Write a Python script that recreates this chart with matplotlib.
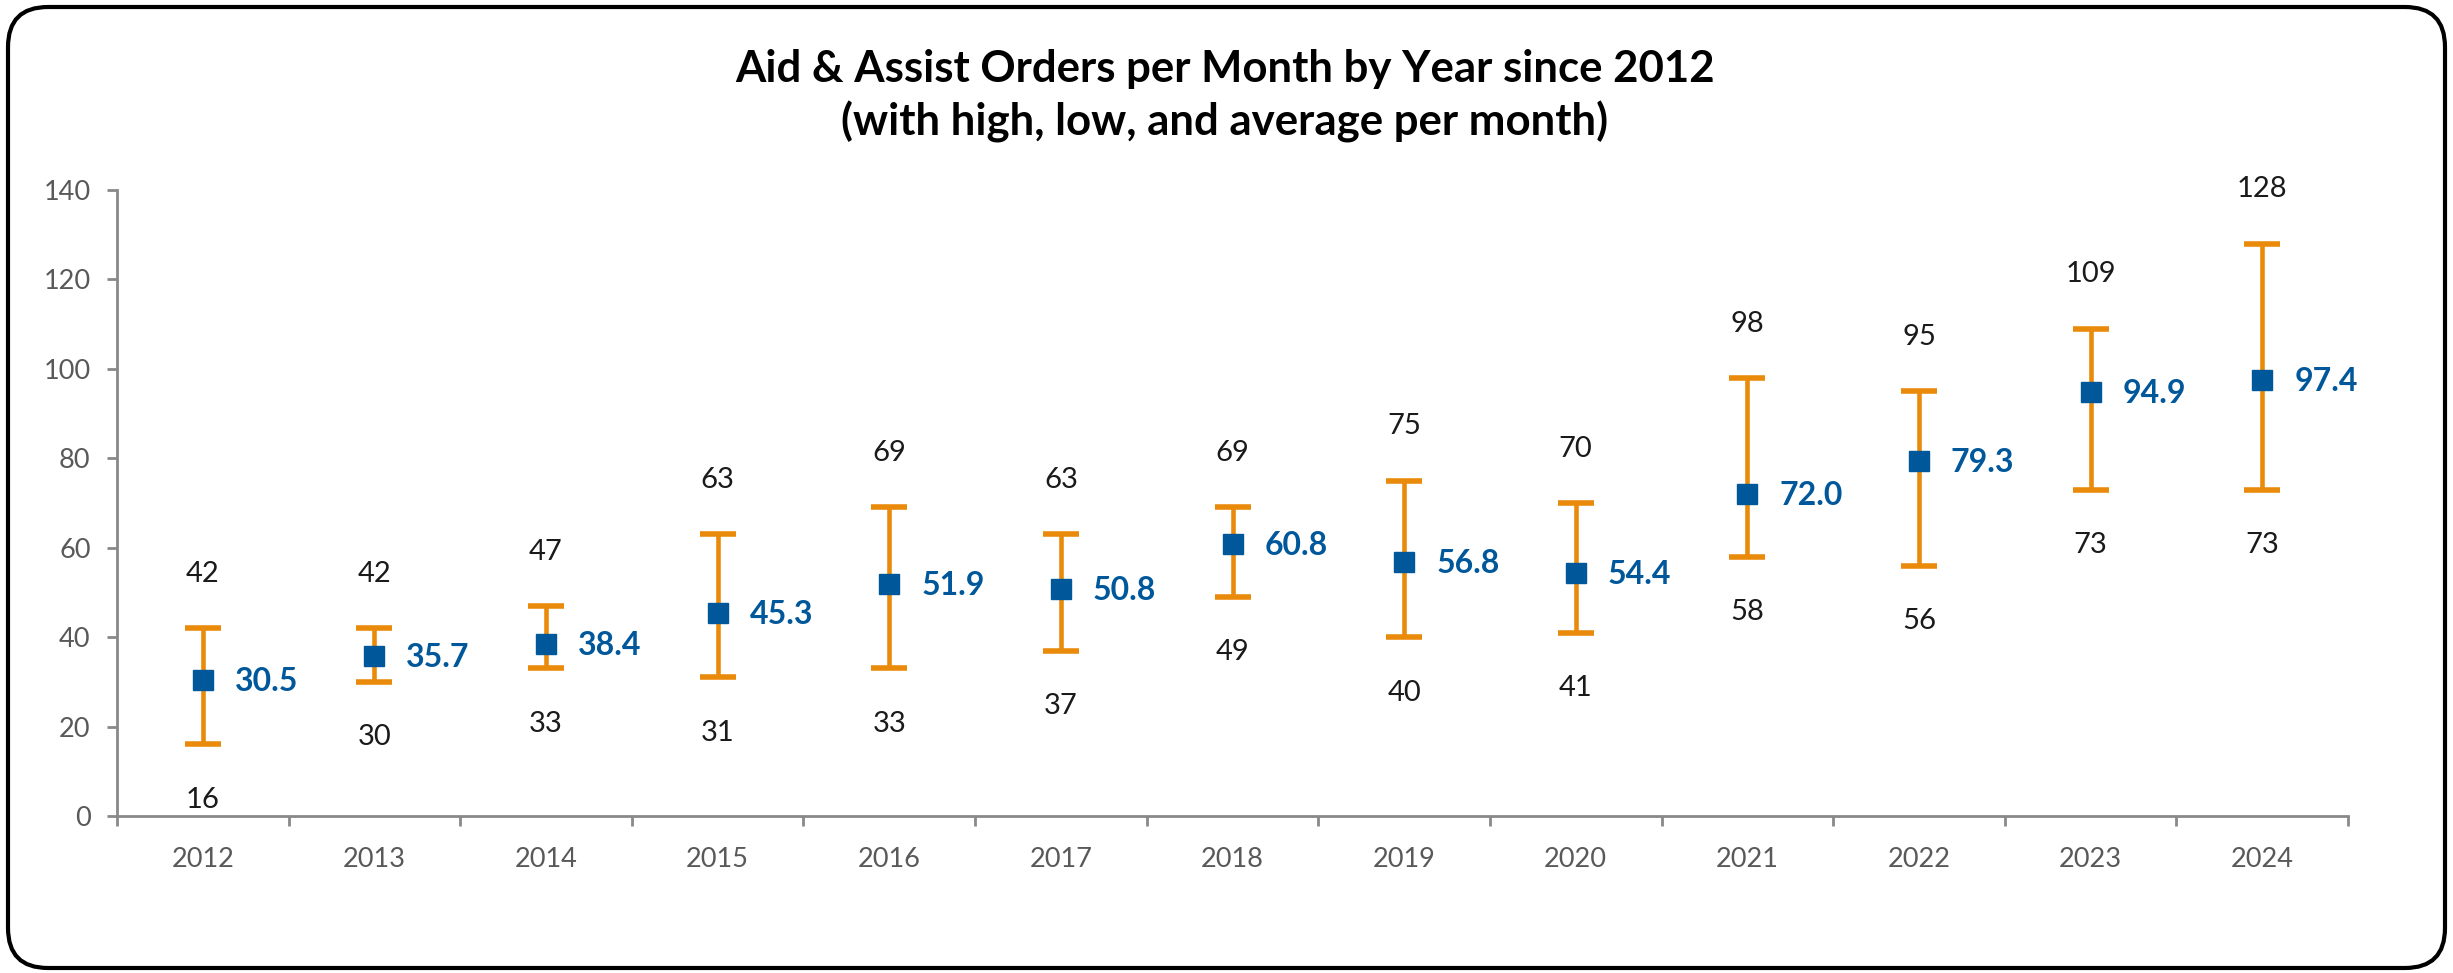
import numpy as np
import matplotlib.pyplot as plt
from matplotlib.patches import FancyBboxPatch
from matplotlib.transforms import IdentityTransform

plt.rcParams['font.family'] = ['Lato', 'DejaVu Sans']

anos = ['2012', '2013', '2014', '2015', '2016', '2017', '2018',
        '2019', '2020', '2021', '2022', '2023', '2024']
media = [30.5, 35.7, 38.4, 45.3, 51.9, 50.8, 60.8, 56.8, 54.4, 72.0, 79.3, 94.9, 97.4]
alto = [42, 42, 47, 63, 69, 63, 69, 75, 70, 98, 95, 109, 128]
baixo = [16, 30, 33, 31, 33, 37, 49, 40, 41, 58, 56, 73, 73]

W, H = 2453, 973
fig = plt.figure(figsize=(W / 100, H / 100), dpi=100)
ax = fig.add_axes([117 / W, (H - 816) / H, (2348 - 117) / W, (816 - 190) / H])

x = np.arange(len(anos))
media = np.array(media)
err = [media - np.array(baixo), np.array(alto) - media]

laranja = '#EA8A0B'
azul = '#00589B'
cinza = '#898989'

ax.errorbar(x, media, yerr=err, fmt='none', ecolor=laranja, elinewidth=3.3,
            capsize=13, capthick=4, zorder=2)
ax.plot(x, media, 's', color=azul, markersize=14, zorder=3)

for i in range(len(anos)):
    ax.annotate(f'{alto[i]}', (x[i], alto[i]), xytext=(0, 39), textcoords='offset points',
                ha='center', va='center', fontsize=21, color='#1a1a1a')
    ax.annotate(f'{baixo[i]}', (x[i], baixo[i]), xytext=(0, -40), textcoords='offset points',
                ha='center', va='center', fontsize=21, color='#1a1a1a')
    ax.annotate(f'{media[i]:.1f}', (x[i], media[i]), xytext=(23, -1), textcoords='offset points',
                ha='left', va='center', fontsize=23, color=azul, fontweight='bold')

ax.set_xlim(-0.5, len(anos) - 0.5)
ax.set_ylim(0, 140)
ax.set_yticks(range(0, 141, 20))
ax.set_xticks(x)
ax.set_xticklabels(anos)
ax.set_xticks(np.arange(-0.5, len(anos), 1), minor=True)

for s in ['top', 'right']:
    ax.spines[s].set_visible(False)
for s in ['left', 'bottom']:
    ax.spines[s].set_color(cinza)
    ax.spines[s].set_linewidth(2)

ax.tick_params(axis='y', colors='#595959', labelsize=19.5, length=7, width=2,
               color=cinza, pad=12)
ax.tick_params(axis='x', which='major', length=0, labelsize=19.5, colors='#595959', pad=22)
ax.tick_params(axis='x', which='minor', length=7, width=2, color=cinza)

fig.text(1225 / W, 1 - 69 / H, 'Aid & Assist Orders per Month by Year since 2012',
         ha='center', va='center', fontsize=31.5, fontweight='bold', color='#000000')
fig.text(1225 / W, 1 - 122 / H, '(with high, low, and average per month)',
         ha='center', va='center', fontsize=31.5, fontweight='bold', color='#000000')

# moldura arredondada em pixels
borda = FancyBboxPatch((8, 5), W - 16, H - 12,
                       boxstyle='round,pad=0,rounding_size=40',
                       transform=IdentityTransform(), fill=False,
                       edgecolor='black', linewidth=3)
fig.patches.append(borda)

fig.savefig('out.png', dpi=100)
